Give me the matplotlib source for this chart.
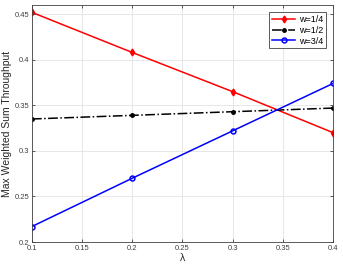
import numpy as np
import matplotlib
matplotlib.use('Agg')
import matplotlib.pyplot as plt

lam = [0.1, 0.2, 0.3, 0.4]
w14 = [0.452, 0.408, 0.365, 0.320]
w12 = [0.335, 0.339, 0.343, 0.347]
w34 = [0.217, 0.270, 0.322, 0.374]

plt.rcParams['font.family'] = ['Liberation Sans', 'DejaVu Sans']

fig = plt.figure(figsize=(3.43, 2.68), dpi=100)
ax = fig.add_axes([0.093, 0.097, 0.878, 0.884])

ax.plot(lam, w14, '-d', color='red', lw=1.1, ms=3.5, mfc='red', label='w=1/4')
ax.plot(lam, w12, '-.', color='black', lw=1.1, marker='.', ms=5, label='w=1/2')
ax.plot(lam, w34, '-o', color='blue', lw=1.1, ms=3.5, mfc='none', mew=1.1, label='w=3/4')

ax.set_xlim(0.1, 0.4)
ax.set_ylim(0.2, 0.46)
ax.set_xticks([0.1, 0.15, 0.2, 0.25, 0.3, 0.35, 0.4])
ax.set_xticklabels(['0.1', '0.15', '0.2', '0.25', '0.3', '0.35', '0.4'])
ax.set_yticks([0.2, 0.25, 0.3, 0.35, 0.4, 0.45])
ax.set_yticklabels(['0.2', '0.25', '0.3', '0.35', '0.4', '0.45'])
ax.grid(True, color='#e3e3e3', lw=0.6)
ax.set_axisbelow(True)
ax.tick_params(labelsize=5.5, direction='in', length=2.5, width=0.6, colors='#404040',
               top=True, right=True, pad=2)
for s in ax.spines.values():
    s.set_color('#404040')
    s.set_linewidth(0.6)
ax.set_xlabel('λ', fontsize=7.5, labelpad=1, color='#262626')
ax.set_ylabel('Max Weighted Sum Throughput', fontsize=7.5, labelpad=2, color='#262626')

leg = ax.legend(loc='upper right', fontsize=6.5, handlelength=2.6, borderpad=0.3,
                labelspacing=0.2, handletextpad=0.4, fancybox=False, framealpha=1,
                edgecolor='#404040', borderaxespad=0.8)
leg.get_frame().set_linewidth(0.6)

fig.savefig('out.png', dpi=100)
